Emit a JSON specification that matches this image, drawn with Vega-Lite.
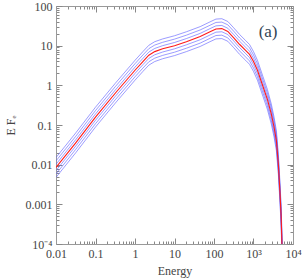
{
  "$schema": "https://vega.github.io/schema/vega-lite/v6.json",
  "width": 237,
  "height": 238,
  "autosize": "none",
  "padding": {"left": 56, "top": 6, "right": 12, "bottom": 36},
  "background": "white",
  "config": {
    "view": {"stroke": null},
    "axis": {
      "labelFont": "Liberation Serif",
      "titleFont": "Liberation Serif",
      "labelFontSize": 12,
      "titleFontSize": 12,
      "titleFontWeight": "normal",
      "labelColor": "#444444",
      "titleColor": "#444444",
      "domainColor": "#999999",
      "tickColor": "#888888",
      "grid": false
    }
  },
  "data": {
    "values": [
      {"E": 0.01, "r": 0.00851, "b1": 0.01513, "b2": 0.01244, "b3": 0.01023, "b4": 0.00708, "b5": 0.00582, "b6": 0.00478},
      {"E": 0.0316, "r": 0.0355, "b1": 0.0631, "b2": 0.0519, "b3": 0.0427, "b4": 0.0295, "b5": 0.0243, "b6": 0.01995},
      {"E": 0.1, "r": 0.158, "b1": 0.281, "b2": 0.231, "b3": 0.19, "b4": 0.1315, "b5": 0.108, "b6": 0.0888},
      {"E": 0.316, "r": 0.631, "b1": 1.122, "b2": 0.923, "b3": 0.758, "b4": 0.525, "b5": 0.432, "b6": 0.355},
      {"E": 1, "r": 2.4, "b1": 4.27, "b2": 3.51, "b3": 2.88, "b4": 2.0, "b5": 1.64, "b6": 1.35},
      {"E": 1.585, "r": 3.98, "b1": 7.08, "b2": 5.82, "b3": 4.78, "b4": 3.31, "b5": 2.72, "b6": 2.24},
      {"E": 2.24, "r": 5.75, "b1": 10.22, "b2": 8.41, "b3": 6.91, "b4": 4.78, "b5": 3.93, "b6": 3.23},
      {"E": 3.16, "r": 7.08, "b1": 12.59, "b2": 10.35, "b3": 8.51, "b4": 5.89, "b5": 4.84, "b6": 3.98},
      {"E": 5.01, "r": 8.32, "b1": 14.79, "b2": 12.16, "b3": 10.0, "b4": 6.92, "b5": 5.69, "b6": 4.68},
      {"E": 10, "r": 10, "b1": 17.78, "b2": 14.62, "b3": 12.02, "b4": 8.32, "b5": 6.84, "b6": 5.62},
      {"E": 20, "r": 12.6, "b1": 22.4, "b2": 18.4, "b3": 15.1, "b4": 10.5, "b5": 8.62, "b6": 7.08},
      {"E": 44.7, "r": 17.0, "b1": 30.2, "b2": 24.9, "b3": 20.4, "b4": 14.1, "b5": 11.6, "b6": 9.55},
      {"E": 79.4, "r": 22.4, "b1": 39.8, "b2": 32.7, "b3": 26.9, "b4": 18.6, "b5": 15.3, "b6": 12.6},
      {"E": 112, "r": 26.3, "b1": 46.8, "b2": 38.5, "b3": 31.6, "b4": 21.9, "b5": 18.0, "b6": 14.8},
      {"E": 158, "r": 26.9, "b1": 47.8, "b2": 39.3, "b3": 32.3, "b4": 22.4, "b5": 18.4, "b6": 15.1},
      {"E": 224, "r": 22.9, "b1": 40.7, "b2": 33.5, "b3": 27.5, "b4": 19.1, "b5": 15.7, "b6": 12.9},
      {"E": 316, "r": 15.8, "b1": 28.1, "b2": 23.1, "b3": 19.0, "b4": 13.1, "b5": 10.8, "b6": 8.88},
      {"E": 447, "r": 10.7, "b1": 19.0, "b2": 15.6, "b3": 12.9, "b4": 8.9, "b5": 7.32, "b6": 6.01},
      {"E": 631, "r": 7.59, "b1": 13.5, "b2": 11.1, "b3": 9.12, "b4": 6.31, "b5": 5.19, "b6": 4.27},
      {"E": 794, "r": 6.03, "b1": 10.7, "b2": 8.82, "b3": 7.25, "b4": 5.02, "b5": 4.12, "b6": 3.39},
      {"E": 1000, "r": 3.98, "b1": 7.08, "b2": 5.82, "b3": 4.78, "b4": 3.31, "b5": 2.72, "b6": 2.24},
      {"E": 1259, "r": 2.4, "b1": 4.27, "b2": 3.51, "b3": 2.88, "b4": 2.0, "b5": 1.64, "b6": 1.35},
      {"E": 1738, "r": 0.933, "b1": 1.659, "b2": 1.364, "b3": 1.121, "b4": 0.776, "b5": 0.638, "b6": 0.524},
      {"E": 2239, "r": 0.447, "b1": 0.795, "b2": 0.654, "b3": 0.537, "b4": 0.372, "b5": 0.306, "b6": 0.251},
      {"E": 2818, "r": 0.191, "b1": 0.34, "b2": 0.279, "b3": 0.23, "b4": 0.159, "b5": 0.131, "b6": 0.107},
      {"E": 3311, "r": 0.0891, "b1": 0.1584, "b2": 0.1303, "b3": 0.1071, "b4": 0.0741, "b5": 0.0609, "b6": 0.0501},
      {"E": 3802, "r": 0.0398, "b1": 0.0708, "b2": 0.0582, "b3": 0.0478, "b4": 0.0331, "b5": 0.0272, "b6": 0.0224},
      {"E": 4266, "r": 0.01, "b1": 0.01778, "b2": 0.01462, "b3": 0.01202, "b4": 0.00832, "b5": 0.00684, "b6": 0.00562},
      {"E": 4677, "r": 0.002, "b1": 0.00356, "b2": 0.00292, "b3": 0.0024, "b4": 0.00166, "b5": 0.00137, "b6": 0.00112},
      {"E": 5012, "r": 0.0005, "b1": 0.000889, "b2": 0.000731, "b3": 0.000601, "b4": 0.000416, "b5": 0.000342, "b6": 0.000281},
      {"E": 5248, "r": 0.0001, "b1": 0.000178, "b2": 0.000146, "b3": 0.00012, "b4": 0.0000832, "b5": 0.0000684, "b6": 0.0000562},
      {"E": 5495, "r": 0.00001, "b1": 0.0000178, "b2": 0.0000146, "b3": 0.000012, "b4": 0.00000832, "b5": 0.00000684, "b6": 0.00000562}
    ]
  },
  "resolve": {"scale": {"x": "independent", "y": "independent"}},
  "layer": [
    {
      "transform": [{"fold": ["b1", "b2", "b3", "b4", "b5", "b6"], "as": ["curve", "F"]}],
      "mark": {"type": "line", "clip": true, "stroke": "#5a5aff", "strokeWidth": 1, "opacity": 0.6},
      "encoding": {
        "detail": {"field": "curve", "type": "nominal"},
        "x": {
          "field": "E", "type": "quantitative",
          "scale": {"type": "log", "domain": [0.01, 10000], "nice": false},
          "axis": {
            "orient": "bottom",
            "title": "Energy",
            "titlePadding": 3,
            "values": [0.01,0.02,0.03,0.04,0.05,0.06,0.07,0.08,0.09,0.1,0.2,0.3,0.4,0.5,0.6,0.7,0.8,0.9,1,2,3,4,5,6,7,8,9,10,20,30,40,50,60,70,80,90,100,200,300,400,500,600,700,800,900,1000,2000,3000,4000,5000,6000,7000,8000,9000,10000],
            "labelExpr": "datum.value==0.01?'0.01':datum.value==0.1?'0.1':datum.value==1?'1':datum.value==10?'10':datum.value==100?'100':datum.value==1000?'10³':datum.value==10000?'10⁴':''",
            "tickSize": {"condition": {"test": "indexof([0.01,0.1,1,10,100,1000,10000], datum.value) >= 0", "value": -6}, "value": -3},
            "labelPadding": 10,
            "labelOverlap": false,
            "labelFlush": false
          }
        },
        "y": {
          "field": "F", "type": "quantitative",
          "scale": {"type": "log", "domain": [0.0001, 100], "nice": false},
          "axis": {
            "orient": "left",
            "title": "E Fₑ",
            "titlePadding": 8,
            "values": [0.0001,0.0002,0.0003,0.0004,0.0005,0.0006,0.0007,0.0008,0.0009,0.001,0.002,0.003,0.004,0.005,0.006,0.007,0.008,0.009,0.01,0.02,0.03,0.04,0.05,0.06,0.07,0.08,0.09,0.1,0.2,0.3,0.4,0.5,0.6,0.7,0.8,0.9,1,2,3,4,5,6,7,8,9,10,20,30,40,50,60,70,80,90,100],
            "labelExpr": "datum.value==0.0001?'10⁻⁴':datum.value==0.001?'0.001':datum.value==0.01?'0.01':datum.value==0.1?'0.1':datum.value==1?'1':datum.value==10?'10':datum.value==100?'100':''",
            "tickSize": {"condition": {"test": "indexof([0.0001,0.001,0.01,0.1,1,10,100], datum.value) >= 0", "value": -6}, "value": -3},
            "labelPadding": 10,
            "labelOverlap": false,
            "labelFlush": false
          }
        }
      }
    },
    {
      "mark": {"type": "line", "clip": true, "stroke": "#ff1a1a", "strokeWidth": 1.1},
      "encoding": {
        "x": {
          "field": "E", "type": "quantitative",
          "scale": {"type": "log", "domain": [0.01, 10000], "nice": false},
          "axis": {
            "orient": "top",
            "title": null,
            "labels": false,
            "values": [0.01,0.02,0.03,0.04,0.05,0.06,0.07,0.08,0.09,0.1,0.2,0.3,0.4,0.5,0.6,0.7,0.8,0.9,1,2,3,4,5,6,7,8,9,10,20,30,40,50,60,70,80,90,100,200,300,400,500,600,700,800,900,1000,2000,3000,4000,5000,6000,7000,8000,9000,10000],
            "tickSize": {"condition": {"test": "indexof([0.01,0.1,1,10,100,1000,10000], datum.value) >= 0", "value": -6}, "value": -3}
          }
        },
        "y": {
          "field": "r", "type": "quantitative",
          "scale": {"type": "log", "domain": [0.0001, 100], "nice": false},
          "axis": {
            "orient": "right",
            "title": null,
            "labels": false,
            "values": [0.0001,0.0002,0.0003,0.0004,0.0005,0.0006,0.0007,0.0008,0.0009,0.001,0.002,0.003,0.004,0.005,0.006,0.007,0.008,0.009,0.01,0.02,0.03,0.04,0.05,0.06,0.07,0.08,0.09,0.1,0.2,0.3,0.4,0.5,0.6,0.7,0.8,0.9,1,2,3,4,5,6,7,8,9,10,20,30,40,50,60,70,80,90,100],
            "tickSize": {"condition": {"test": "indexof([0.0001,0.001,0.01,0.1,1,10,100], datum.value) >= 0", "value": -6}, "value": -3}
          }
        }
      }
    },
    {
      "data": {"values": [{"E": 2340, "F": 21.6, "label": "(a)"}]},
      "mark": {"type": "text", "font": "Liberation Serif", "fontSize": 17, "color": "#334455", "align": "center", "baseline": "middle"},
      "encoding": {
        "x": {"field": "E", "type": "quantitative", "scale": {"type": "log", "domain": [0.01, 10000], "nice": false}, "axis": null},
        "y": {"field": "F", "type": "quantitative", "scale": {"type": "log", "domain": [0.0001, 100], "nice": false}, "axis": null},
        "text": {"field": "label"}
      }
    }
  ]
}
